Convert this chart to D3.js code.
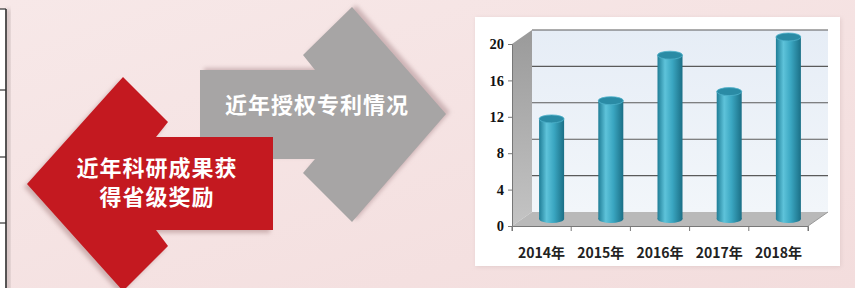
<!DOCTYPE html>
<html>
<head>
<meta charset="utf-8">
<script src="https://cdn.jsdelivr.net/npm/d3@7"></script>
<style>
  html, body { margin: 0; padding: 0; background: #f5e1e1; }
  svg { display: block; }
</style>
</head>
<body>
<svg id="chart"></svg>
<script>
// chart data
var years = ["2014年", "2015年", "2016年", "2017年", "2018年"];
var patents = [11, 13, 18, 14, 20];
var yTicks = [0, 4, 8, 12, 16, 20];

var redLines = ["近年科研成果获", "得省级奖励"];
var grayLabel = "近年授权专利情况";

var W = 855, H = 288;
var svg = d3.select("#chart").attr("width", W).attr("height", H);
var defs = svg.append("defs");

// background
var bg = defs.append("linearGradient").attr("id", "bg")
  .attr("x1", 0).attr("y1", 0).attr("x2", 1).attr("y2", 1);
bg.append("stop").attr("offset", "0%").attr("stop-color", "#f7e8e8");
bg.append("stop").attr("offset", "100%").attr("stop-color", "#f3dddd");
svg.append("rect").attr("width", W).attr("height", H).attr("fill", "url(#bg)");

var blur = defs.append("filter").attr("id", "shadow")
  .attr("x", "-10%").attr("y", "-10%").attr("width", "130%").attr("height", "130%");
blur.append("feGaussianBlur").attr("stdDeviation", 2);

// table edge on the left
svg.append("rect").attr("x", 0).attr("y", 9).attr("width", 6).attr("height", H).attr("fill", "#ffffff");
svg.append("rect").attr("x", 6).attr("y", 9).attr("width", 4).attr("height", H)
  .attr("fill", "#c9b9b9").attr("filter", "url(#shadow)");
svg.append("line").attr("x1", 6).attr("x2", 6).attr("y1", 9).attr("y2", H)
  .attr("stroke", "#333").attr("stroke-width", 1.6);
[9, 90, 157, 223].forEach(function(y) {
  svg.append("line").attr("x1", 0).attr("x2", 6).attr("y1", y).attr("y2", y)
    .attr("stroke", "#333").attr("stroke-width", 1.2);
});

// arrows
var grayArrow = [[200, 70], [315, 70], [303, 55], [352, 7], [446, 114], [352, 222], [303, 173], [315, 159], [200, 159]];
var redArrow = [[27, 184], [123, 77], [168, 122], [156, 137], [273, 137], [273, 230], [156, 230], [168, 246], [123, 291]];
var line = d3.line();

svg.append("path").attr("d", line(grayArrow) + "Z")
  .attr("transform", "translate(4,-2)").attr("fill", "#cdb4b6").attr("filter", "url(#shadow)");
svg.append("path").attr("d", line(grayArrow) + "Z").attr("fill", "#a7a5a5");

svg.append("path").attr("d", line(redArrow) + "Z")
  .attr("transform", "translate(-3,3)").attr("fill", "#cdb0b0").attr("filter", "url(#shadow)");
svg.append("path").attr("d", line(redArrow) + "Z").attr("fill", "#c41920");

svg.append("text")
  .attr("x", 317).attr("y", 113)
  .style("font-family", "'Noto Sans CJK SC', sans-serif")
  .style("font-size", "22px").style("font-weight", 700)
  .style("letter-spacing", "1px")
  .style("fill", "#ffffff").style("text-anchor", "middle")
  .text(grayLabel);

svg.selectAll(".redtxt").data(redLines).enter().append("text")
  .attr("class", "redtxt")
  .attr("x", 157).attr("y", function(d, i) { return 176 + i * 29; })
  .style("font-family", "'Noto Sans CJK SC', sans-serif")
  .style("font-size", "22px").style("font-weight", 700)
  .style("letter-spacing", "1px")
  .style("fill", "#ffffff").style("text-anchor", "middle")
  .text(function(d) { return d; });

// chart panel
svg.append("rect").attr("x", 476).attr("y", 18).attr("width", 365).attr("height", 249)
  .attr("fill", "#e2cccc").attr("filter", "url(#shadow)");
svg.append("rect").attr("x", 475).attr("y", 17).attr("width", 365).attr("height", 249)
  .attr("fill", "#ffffff");

var dx = 20, dy = -14;
var xScale = d3.scaleBand().domain(years).range([512, 808]);
var yScale = d3.scaleLinear().domain([0, 20]).range([226, 44]);

var wallG = defs.append("linearGradient").attr("id", "wall")
  .attr("x1", 0).attr("y1", 0).attr("x2", 0).attr("y2", 1);
wallG.append("stop").attr("offset", "0%").attr("stop-color", "#e6edf6");
wallG.append("stop").attr("offset", "100%").attr("stop-color", "#f2f6fa");

var sideG = defs.append("linearGradient").attr("id", "side")
  .attr("x1", 0).attr("y1", 0).attr("x2", 0).attr("y2", 1);
sideG.append("stop").attr("offset", "0%").attr("stop-color", "#9a9a9a");
sideG.append("stop").attr("offset", "100%").attr("stop-color", "#c4c4c4");

var x0 = xScale.range()[0], x1 = xScale.range()[1];
var yb = yScale(0), yt = yScale(20);

// back wall
svg.append("rect")
  .attr("x", x0 + dx).attr("y", yt + dy)
  .attr("width", x1 - x0).attr("height", yb - yt)
  .attr("fill", "url(#wall)");

// side wall
svg.append("path")
  .attr("d", line([[x0, yt], [x0 + dx, yt + dy], [x0 + dx, yb + dy], [x0, yb]]) + "Z")
  .attr("fill", "url(#side)");

// floor
svg.append("path")
  .attr("d", line([[x0, yb], [x0 + dx, yb + dy], [x1 + dx, yb + dy], [x1, yb]]) + "Z")
  .attr("fill", "#b9b9b9");

// gridlines on back wall
svg.selectAll(".grid").data(yTicks.slice(1)).enter().append("line")
  .attr("class", "grid")
  .attr("x1", x0 + dx).attr("x2", x1 + dx)
  .attr("y1", function(d) { return yScale(d) + dy; })
  .attr("y2", function(d) { return yScale(d) + dy; })
  .attr("stroke", "#5a5a5a").attr("stroke-width", 1.1);

// axes
var yAxis = d3.axisLeft(yScale).tickValues(yTicks).tickSize(4).tickPadding(4);
var gy = svg.append("g").attr("transform", "translate(" + x0 + ",0)").call(yAxis);
gy.select(".domain").attr("stroke", "#777");
gy.selectAll(".tick line").attr("stroke", "#777");
gy.selectAll("text")
  .style("font-family", "'Liberation Serif', serif")
  .style("font-size", "14.5px").style("font-weight", 700)
  .style("fill", "#111");

var xAxis = d3.axisBottom(xScale).tickSize(5).tickPadding(17).tickSizeOuter(5);
var gx = svg.append("g").attr("transform", "translate(0," + yb + ")").call(xAxis);
gx.select(".domain").attr("stroke", "#777");
gx.selectAll(".tick line").attr("transform", function() {
  return "translate(" + (-xScale.bandwidth() / 2) + ",0)";
}).attr("stroke", "#777");
gx.append("line").attr("x1", x1).attr("x2", x1).attr("y1", 0).attr("y2", 5).attr("stroke", "#777");
gx.selectAll("text")
  .style("font-family", "'Noto Sans CJK SC', sans-serif")
  .style("font-size", "14px").style("font-weight", 700)
  .style("fill", "#222");

// diagonal line at floor right edge
svg.append("line")
  .attr("x1", x1).attr("y1", yb).attr("x2", x1 + dx).attr("y2", yb + dy)
  .attr("stroke", "#999");

// cylinders
var barG = defs.append("linearGradient").attr("id", "cyl")
  .attr("x1", 0).attr("y1", 0).attr("x2", 1).attr("y2", 0);
barG.append("stop").attr("offset", "0%").attr("stop-color", "#1f7d96");
barG.append("stop").attr("offset", "30%").attr("stop-color", "#5ec3da");
barG.append("stop").attr("offset", "60%").attr("stop-color", "#3aa6c1");
barG.append("stop").attr("offset", "100%").attr("stop-color", "#1b6f86");

var rx = 12.5, ry = 4;
var bars = svg.selectAll(".bar").data(patents).enter().append("g").attr("class", "bar")
  .attr("transform", function(d, i) {
    return "translate(" + (xScale(years[i]) + xScale.bandwidth() / 2 + dx / 2) + "," + (dy / 2) + ")";
  });

bars.append("ellipse")
  .attr("cx", 0).attr("cy", yScale(0)).attr("rx", rx).attr("ry", ry)
  .attr("fill", "url(#cyl)");
bars.append("rect")
  .attr("x", -rx).attr("width", rx * 2)
  .attr("y", function(d) { return yScale(d); })
  .attr("height", function(d) { return yScale(0) - yScale(d); })
  .attr("fill", "url(#cyl)");
bars.append("ellipse")
  .attr("cx", 0).attr("cy", function(d) { return yScale(d); })
  .attr("rx", rx).attr("ry", ry)
  .attr("fill", "#2a8ba5").attr("stroke", "#4fb3cb").attr("stroke-width", 0.8);
</script>
</body>
</html>
